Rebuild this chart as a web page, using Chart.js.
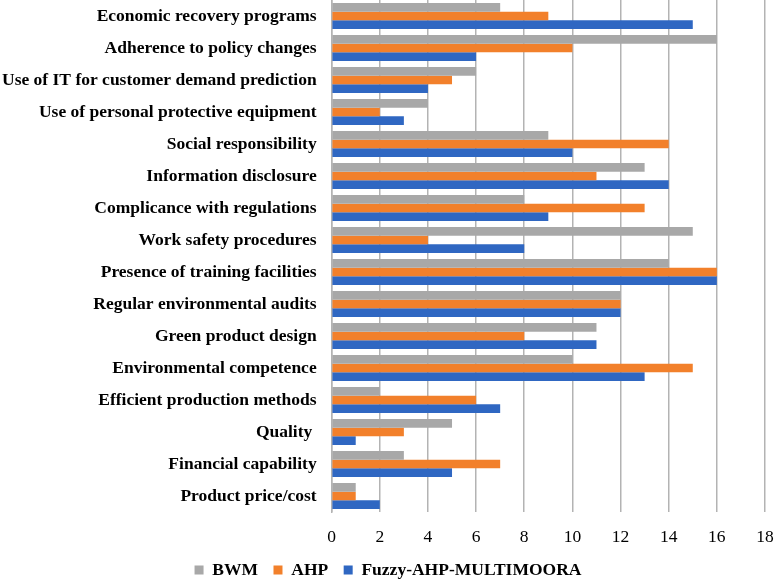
<!DOCTYPE html>
<html>
<head>
<meta charset="utf-8">
<script src="https://cdn.jsdelivr.net/npm/chart.js@4"></script>
<style>
  html, body { margin: 0; padding: 0; background: #fff; }
  #wrap { width: 774px; height: 580px; }
</style>
</head>
<body>
<div id="wrap"><canvas id="chart" width="774" height="580"></canvas></div>
<script>
const criteria = [
  "Economic recovery programs",
  "Adherence to policy changes",
  "Use of IT for customer demand prediction",
  "Use of personal protective equipment",
  "Social responsibility",
  "Information disclosure",
  "Complicance with regulations",
  "Work safety procedures",
  "Presence of training facilities",
  "Regular environmental audits",
  "Green product design",
  "Environmental competence",
  "Efficient production methods",
  "Quality ",
  "Financial capability",
  "Product price/cost"
];
const bwm   = [7, 16, 6, 4, 9, 13, 8, 15, 14, 12, 11, 10, 2, 5, 3, 1];
const ahp   = [9, 10, 5, 2, 14, 11, 13, 4, 16, 12, 8, 15, 6, 3, 7, 1];
const fuzzy = [15, 6, 4, 3, 10, 14, 9, 8, 16, 12, 11, 13, 7, 1, 5, 2];
const xTicks = [0, 2, 4, 6, 8, 10, 12, 14, 16, 18];

const gridGray = "#b3b3b3";
const serif = "'Liberation Serif', 'Times New Roman', serif";

new Chart(document.getElementById("chart").getContext("2d"), {
  type: "bar",
  data: {
    labels: criteria,
    datasets: [
      { label: "BWM", data: bwm, backgroundColor: "#a8a8a8" },
      { label: "AHP", data: ahp, backgroundColor: "#f2802b" },
      { label: "Fuzzy-AHP-MULTIMOORA", data: fuzzy, backgroundColor: "#2f67c2" }
    ]
  },
  options: {
    indexAxis: "y",
    responsive: false,
    animation: false,
    devicePixelRatio: 1,
    layout: { padding: { top: 0, right: 0, bottom: -8.75, left: 2 } },
    datasets: {
      bar: { categoryPercentage: 0.81, barPercentage: 1.0, borderWidth: 0 }
    },
    scales: {
      x: {
        min: xTicks[0],
        max: xTicks[xTicks.length - 1],
        afterBuildTicks: (axis) => { axis.ticks = xTicks.map(v => ({ value: v })); },
        afterFit: (axis) => { axis.paddingLeft = 0; axis.paddingRight = 9; },
        grid: { color: gridGray, lineWidth: 1.5, drawTicks: true, tickLength: 18, tickColor: "rgba(0,0,0,0)" },
        border: { display: false },
        ticks: {
          padding: 0,
          color: "#000",
          font: { family: serif, size: 17.5, lineHeight: 0.9 }
        }
      },
      y: {
        afterFit: (axis) => { axis.paddingTop = 0; axis.paddingBottom = 0; },
        grid: { display: false, drawTicks: true, tickLength: 15 },
        border: { display: true, color: gridGray, width: 1.5 },
        ticks: {
          padding: 0,
          color: "#000",
          autoSkip: false,
          font: { family: serif, size: 17.5, weight: "bold" }
        }
      }
    },
    plugins: {
      title: { display: false },
      tooltip: { enabled: false },
      legend: {
        position: "bottom",
        labels: {
          boxWidth: 9,
          boxHeight: 9,
          padding: 15.5,
          color: "#000",
          font: { family: serif, size: 17.5, weight: "bold" }
        }
      }
    }
  }
});
</script>
</body>
</html>
